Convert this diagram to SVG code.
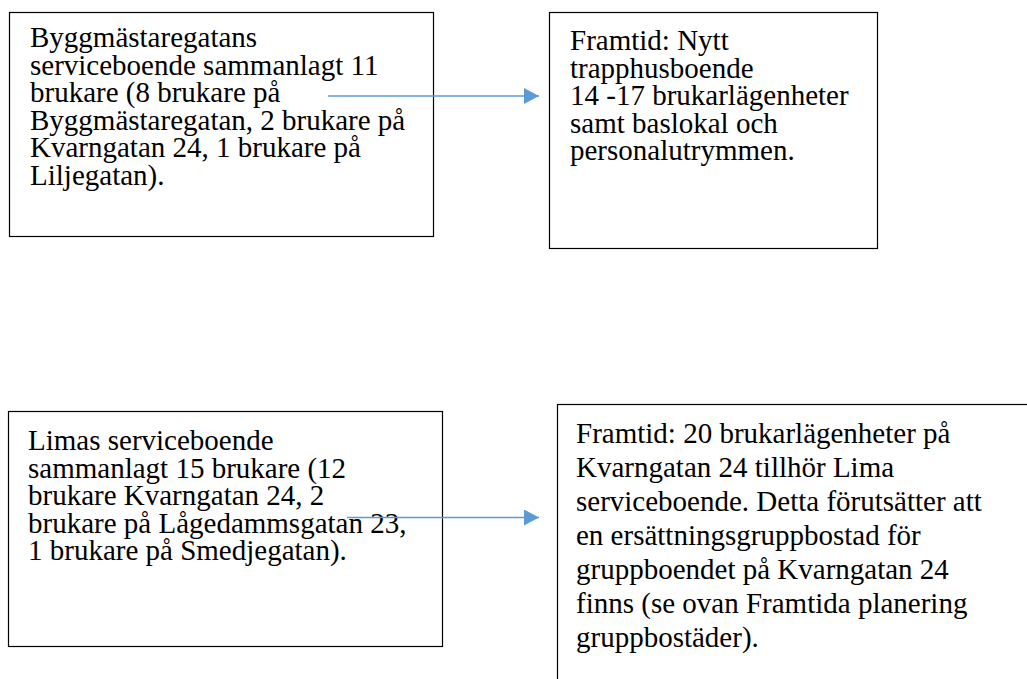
<svg xmlns="http://www.w3.org/2000/svg" width="1027" height="679" viewBox="0 0 1027 679">
<style>
.box{fill:#fff;stroke:#000;stroke-width:1.2}
.t{font-family:"Liberation Serif","Times New Roman",serif;font-size:29px;fill:#000}
.c{stroke:#5B9BD5;stroke-width:1.3;fill:none}
</style>
<defs>
<marker id="ah" markerUnits="userSpaceOnUse" markerWidth="16" markerHeight="16" refX="15" refY="8" orient="auto">
<path d="M0,0 L15,8 L0,16 Z" fill="#5B9BD5"/>
</marker>
</defs>
<rect width="1027" height="679" fill="#fff"/>
<g id="node-bygg">
<rect class="box" x="9.5" y="12.5" width="424" height="224"/>
<text class="t"><tspan x="30" y="47">Byggmästaregatans</tspan><tspan x="30" y="74.5">serviceboende sammanlagt 11</tspan><tspan x="30" y="102">brukare (8 brukare på</tspan><tspan x="30" y="129.5">Byggmästaregatan, 2 brukare på</tspan><tspan x="30" y="157">Kvarngatan 24, 1 brukare på</tspan><tspan x="30" y="184.5">Liljegatan).</tspan></text>
</g>
<g id="node-framtid1">
<rect class="box" x="549.5" y="12.5" width="328" height="236"/>
<text class="t"><tspan x="570" y="50">Framtid: Nytt</tspan><tspan x="570" y="77.5">trapphusboende</tspan><tspan x="570" y="105">14 -17 brukarlägenheter</tspan><tspan x="570" y="132.5">samt baslokal och</tspan><tspan x="570" y="160">personalutrymmen.</tspan></text>
</g>
<g id="node-lima">
<rect class="box" x="8.5" y="411.5" width="434" height="235"/>
<text class="t"><tspan x="28" y="450">Limas serviceboende</tspan><tspan x="28" y="477.5">sammanlagt 15 brukare (12</tspan><tspan x="28" y="505">brukare Kvarngatan 24, 2</tspan><tspan x="28" y="532.5">brukare på Lågedammsgatan 23,</tspan><tspan x="28" y="560">1 brukare på Smedjegatan).</tspan></text>
</g>
<g id="node-framtid2">
<rect class="box" x="557.5" y="404.5" width="480" height="300"/>
<text class="t"><tspan x="576" y="443">Framtid: 20 brukarlägenheter på</tspan><tspan x="576" y="477">Kvarngatan 24 tillhör Lima</tspan><tspan x="576" y="511">serviceboende. Detta förutsätter att</tspan><tspan x="576" y="545">en ersättningsgruppbostad för</tspan><tspan x="576" y="579">gruppboendet på Kvarngatan 24</tspan><tspan x="576" y="613">finns (se ovan Framtida planering</tspan><tspan x="576" y="647">gruppbostäder).</tspan></text>
</g>
<g id="connectors">
<line class="c" x1="328" y1="96" x2="539" y2="96" marker-end="url(#ah)"/>
<line class="c" x1="347" y1="517.5" x2="539" y2="517.5" marker-end="url(#ah)"/>
</g>
</svg>
